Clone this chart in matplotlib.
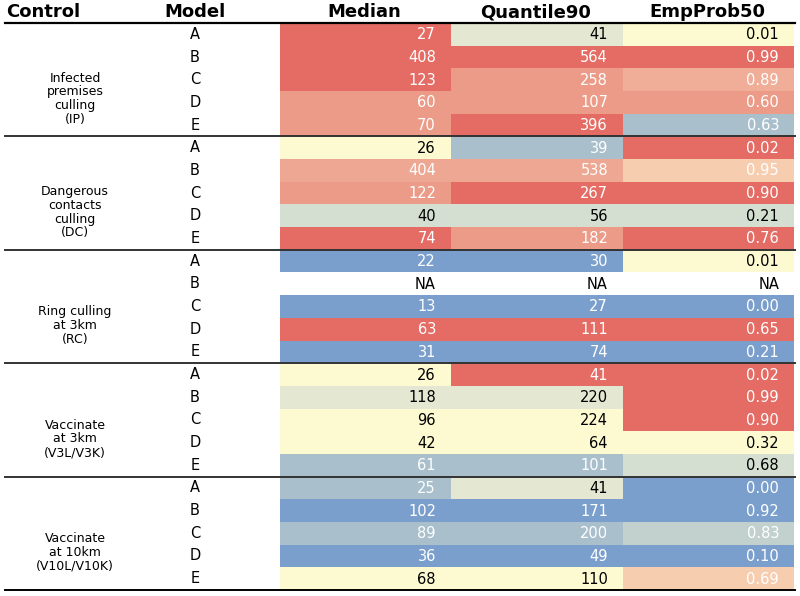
import numpy as np
import matplotlib
matplotlib.use('Agg')
import matplotlib.pyplot as plt
from matplotlib.colors import LinearSegmentedColormap
from matplotlib.patches import Rectangle

# table content
controls = ['Infected\npremises\nculling\n(IP)',
            'Dangerous\ncontacts\nculling\n(DC)',
            'Ring culling\nat 3km\n(RC)',
            'Vaccinate\nat 3km\n(V3L/V3K)',
            'Vaccinate\nat 10km\n(V10L/V10K)']
models = ['A', 'B', 'C', 'D', 'E']
columns = ['Median', 'Quantile90', 'EmpProb50']

median = [[27, 408, 123, 60, 70],
          [26, 404, 122, 40, 74],
          [22, None, 13, 63, 31],
          [26, 118, 96, 42, 61],
          [25, 102, 89, 36, 68]]
quantile90 = [[41, 564, 258, 107, 396],
              [39, 538, 267, 56, 182],
              [30, None, 27, 111, 74],
              [41, 220, 224, 64, 101],
              [41, 171, 200, 49, 110]]
empprob50 = [[0.01, 0.99, 0.89, 0.60, 0.63],
             [0.02, 0.95, 0.90, 0.21, 0.76],
             [0.01, None, 0.00, 0.65, 0.21],
             [0.02, 0.99, 0.90, 0.32, 0.68],
             [0.00, 0.92, 0.83, 0.10, 0.69]]

# shading of each cell (0 = blue, 0.5 = yellow, 1 = red)
heat_median = [[1.0, 1.0, 1.0, 0.83, 0.83],
               [0.5, 0.78, 0.83, 0.38, 1.0],
               [0.0, np.nan, 0.0, 1.0, 0.0],
               [0.5, 0.45, 0.5, 0.5, 0.2],
               [0.2, 0.0, 0.2, 0.0, 0.5]]
heat_q90 = [[0.45, 1.0, 0.83, 0.83, 1.0],
            [0.2, 0.78, 1.0, 0.38, 0.83],
            [0.0, np.nan, 0.0, 1.0, 0.0],
            [1.0, 0.45, 0.5, 0.5, 0.2],
            [0.45, 0.0, 0.2, 0.0, 0.5]]
heat_emp = [[0.5, 1.0, 0.75, 0.83, 0.2],
            [1.0, 0.65, 1.0, 0.38, 1.0],
            [0.5, np.nan, 0.0, 1.0, 0.0],
            [1.0, 1.0, 1.0, 0.5, 0.38],
            [0.0, 0.0, 0.3, 0.0, 0.65]]

values = [median, quantile90, empprob50]
heats = [heat_median, heat_q90, heat_emp]
fmts = ['{:d}', '{:d}', '{:.2f}']

cmap = LinearSegmentedColormap.from_list('tbl', [
    (0.0, '#7b9fcc'), (0.2, '#a9bfcc'), (0.3, '#c3d1cd'), (0.38, '#d4dfd1'),
    (0.45, '#e3e8d2'), (0.5, '#fdfbd2'), (0.65, '#f7cdb0'), (0.75, '#f0ae98'),
    (0.83, '#eb9b87'), (1.0, '#e46c64')])

# layout in pixels
W, H = 800, 596
top = 23.0
rh = 22.68
col_edges = [280, 451, 623, 794]
pad = 15

fig = plt.figure(figsize=(W / 100, H / 100), dpi=100)
ax = fig.add_axes([0, 0, 1, 1])
ax.set_xlim(0, W)
ax.set_ylim(H, 0)
ax.axis('off')

# header
hdr = dict(fontsize=13, fontweight='bold', ha='center', va='center')
ax.text(43, 12, 'Control', **hdr)
ax.text(195, 12, 'Model', **hdr)
for j, name in enumerate(columns):
    ax.text((col_edges[j] + col_edges[j + 1]) / 2 - 1, 12, name, **hdr)

row = 0
for g, ctrl in enumerate(controls):
    g_top = top + g * 5 * rh
    # labels sit a little below the middle of their block
    ax.text(75, g_top + 2.5 * rh + 19, ctrl, fontsize=9, ha='center', va='center',
            linespacing=1.08)
    for m, mod in enumerate(models):
        y0 = top + row * rh
        yc = y0 + rh / 2
        ax.text(195, yc, mod, fontsize=10.5, ha='center', va='center')
        for j in range(3):
            h = heats[j][g][m]
            v = values[j][g][m]
            x0, x1 = col_edges[j], col_edges[j + 1]
            if not np.isnan(h):
                ax.add_patch(Rectangle((x0, y0), x1 - x0, rh, facecolor=cmap(h),
                                       edgecolor='none', zorder=1))
            if v is None:
                label, tc = 'NA', 'black'
            else:
                label = fmts[j].format(v)
                tc = 'white' if (h <= 0.32 or h >= 0.6) else 'black'
            ax.text(x1 - pad, yc + 0.5, label, fontsize=10.5, ha='right',
                    va='center', color=tc, zorder=3)
        row += 1

# rules
ax.plot([5, 795], [top, top], color='black', lw=1.6, zorder=4)
for g in range(1, 5):
    y = top + g * 5 * rh
    ax.plot([5, 795], [y, y], color='#333333', lw=1.4, zorder=4)
ax.plot([5, 795], [top + 25 * rh, top + 25 * rh], color='black', lw=1.4, zorder=4)

fig.savefig('out.png', dpi=100)
